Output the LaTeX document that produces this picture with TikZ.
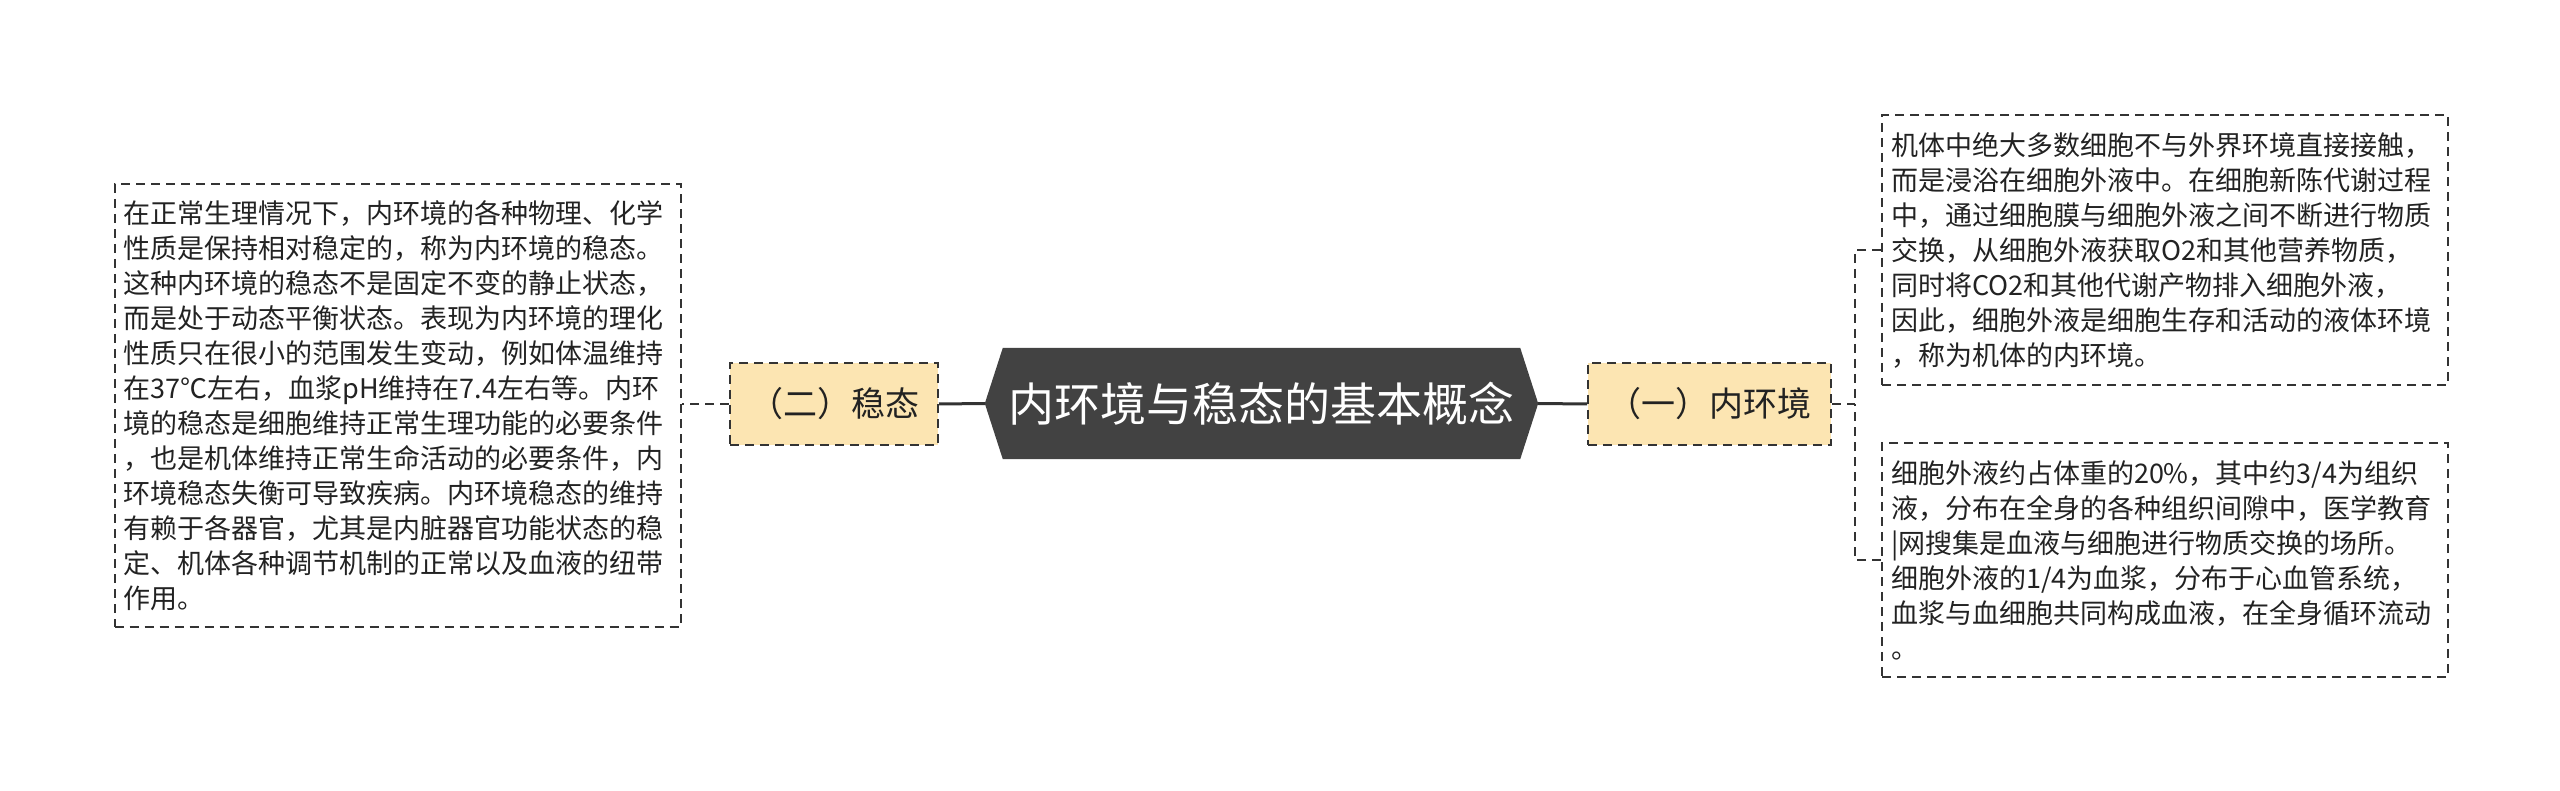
\documentclass[tikz,border=0pt]{standalone}
\usepackage{fontspec}
\setmainfont{Noto Sans CJK SC}
\usetikzlibrary{backgrounds}
\definecolor{nodeyellow}{RGB}{252,229,178}
\definecolor{rootgray}{RGB}{66,66,66}
\definecolor{linegray}{RGB}{51,51,51}
\definecolor{txt}{RGB}{34,34,34}
\tikzset{
  txtbox/.style={draw=linegray, line width=2pt, dash pattern=on 9pt off 6pt, text=txt,
    font=\fontsize{27}{35}\selectfont, align=left, text width=548pt, inner xsep=9pt,
    inner ysep=0pt, anchor=center},
  subnode/.style={draw=linegray, fill=nodeyellow, line width=2pt, dash pattern=on 9pt off 6pt,
    text=txt, font=\fontsize{34}{40}\selectfont, minimum height=82pt, inner sep=0pt},
  rootnode/.style={text=white, font=\fontsize{46}{52}\selectfont, minimum width=553pt,
    minimum height=111pt, inner sep=0pt},
  solidconn/.style={draw=linegray, line width=3pt},
  dashconn/.style={draw=linegray, line width=2pt, dash pattern=on 9pt off 6pt}
}
\begin{document}
\begin{tikzpicture}[x=1pt,y=-1pt]
\useasboundingbox (0,0) rectangle (2560,791);

\node[rootnode] (root) at (1261.5,403.5) {内环境与稳态的基本概念};
\begin{scope}[on background layer]
\fill[rootgray] ([xshift=18pt]root.north west) -- ([xshift=-18pt]root.north east) -- (root.east)
  -- ([xshift=-18pt]root.south east) -- ([xshift=18pt]root.south west) -- (root.west) -- cycle;
\end{scope}

\node[subnode, minimum width=208pt] (L2) at (834,404) {（二）稳态};
\node[subnode, minimum width=243pt] (R1) at (1709.5,404) {（一）内环境};

\node[txtbox, minimum height=443pt] (L) at (397.5,405.5) {在正常生理情况下，内环境的各种物理、化学\\
性质是保持相对稳定的，称为内环境的稳态。\\
这种内环境的稳态不是固定不变的静止状态，\\
而是处于动态平衡状态。表现为内环境的理化\\
性质只在很小的范围发生变动，例如体温维持\\
在37℃左右，血浆pH维持在7.4左右等。内环\\
境的稳态是细胞维持正常生理功能的必要条件\\
，也是机体维持正常生命活动的必要条件，内\\
环境稳态失衡可导致疾病。内环境稳态的维持\\
有赖于各器官，尤其是内脏器官功能状态的稳\\
定、机体各种调节机制的正常以及血液的纽带\\
作用。};

\node[txtbox, minimum height=270pt] (RT) at (2165,250) {机体中绝大多数细胞不与外界环境直接接触，\\
而是浸浴在细胞外液中。在细胞新陈代谢过程\\
中，通过细胞膜与细胞外液之间不断进行物质\\
交换，从细胞外液获取O2和其他营养物质，\\
同时将CO2和其他代谢产物排入细胞外液，\\
因此，细胞外液是细胞生存和活动的液体环境\\
，称为机体的内环境。};

\node[txtbox, minimum height=234pt] (RB) at (2165,560) {细胞外液约占体重的20\%，其中约3/4为组织\\
液，分布在全身的各种组织间隙中，医学教育\\
|网搜集是血液与细胞进行物质交换的场所。\\
细胞外液的1/4为血浆，分布于心血管系统，\\
血浆与血细胞共同构成血液，在全身循环流动\\
。};

\coordinate (bus) at (1855,404);

\draw[solidconn] (root.west) -- (L2.east);
\draw[solidconn] (root.east) -- (R1.west);
\draw[dashconn] (L2.west) -- (L.east |- L2.west);
\draw[dashconn] (R1.east) -- (bus);
\draw[dashconn] (RT.west) -| (bus);
\draw[dashconn] (RB.west) -| (bus);
\end{tikzpicture}
\end{document}
